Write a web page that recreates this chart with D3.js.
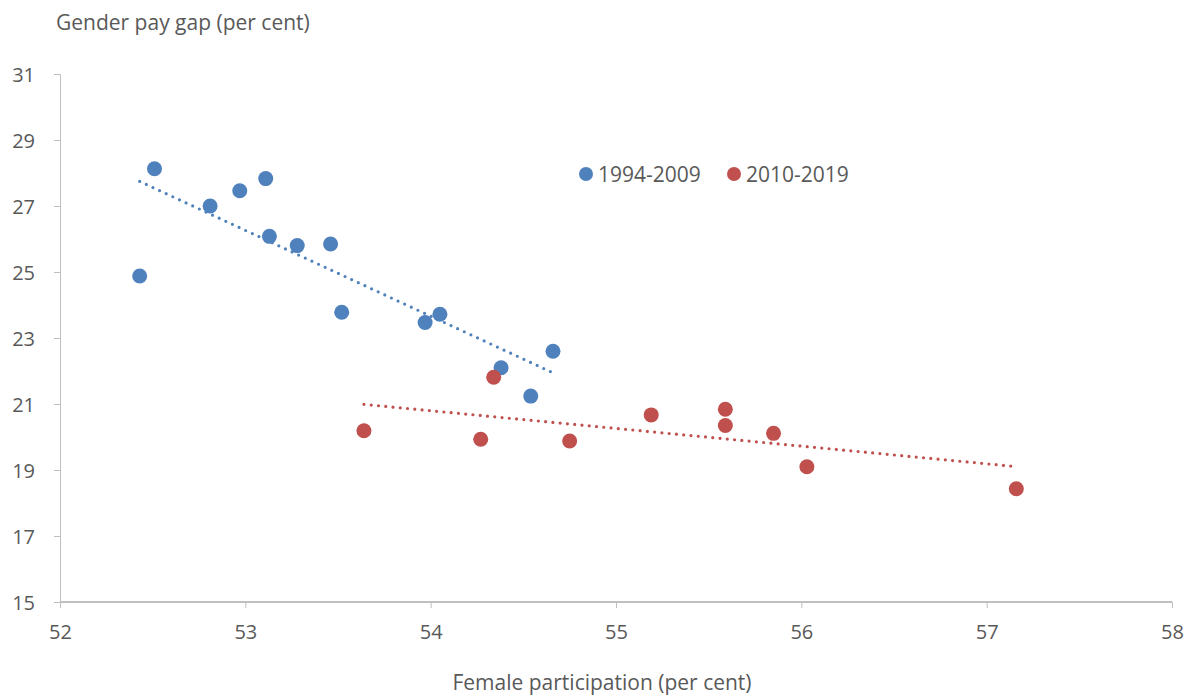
<!DOCTYPE html>
<html><head><meta charset="utf-8">
<script src="https://cdn.jsdelivr.net/npm/d3@7"></script>
<style>body{margin:0;background:#fff}svg{display:block}text{font-family:"Open Sans",sans-serif;fill:#595959}</style>
</head><body><svg id="c" width="1187" height="697"></svg>
<script>
const seriesNames = ["1994-2009", "2010-2019"];
const participation9409 = [52.43, 52.51, 52.81, 52.97, 53.11, 53.13, 53.28, 53.46, 53.52, 53.97, 54.05, 54.38, 54.54, 54.66];
const payGap9409 = [24.88, 28.13, 27.0, 27.46, 27.83, 26.08, 25.80, 25.85, 23.78, 23.47, 23.72, 22.10, 21.24, 22.60];
const participation1019 = [53.64, 54.27, 54.34, 54.75, 55.19, 55.59, 55.59, 55.85, 56.03, 57.16];
const payGap1019 = [20.19, 19.93, 21.81, 19.88, 20.67, 20.84, 20.35, 20.11, 19.10, 18.43];
const xTicks = [52, 53, 54, 55, 56, 57, 58];
const yTicks = [15, 17, 19, 21, 23, 25, 27, 29, 31];
const colors = ["#4F81BD", "#C0504D"];

const svg = d3.select("#c");
const x = d3.scaleLinear().domain([52, 58]).range([60, 1172]);
const y = d3.scaleLinear().domain([15, 31]).range([602, 74]);

// y axis
const ya = svg.append("g").attr("transform", "translate(60,0)")
  .call(d3.axisLeft(y).tickValues(yTicks).tickSize(6).tickPadding(19).tickFormat(d3.format("d")));
ya.select(".domain").attr("stroke", "#BFBFBF").attr("d", "M-6,74.5H0.5V602");
ya.selectAll(".tick line").attr("stroke", "#BFBFBF");
ya.selectAll("text").style("font-size", "20px").attr("fill", "#595959").attr("dy", "0.36em");

// x axis
const xa = svg.append("g").attr("transform", "translate(0,602)")
  .call(d3.axisBottom(x).tickValues(xTicks).tickSize(6).tickPadding(17).tickFormat(d3.format("d")));
xa.select(".domain").attr("stroke", "#BFBFBF").attr("stroke-width", 2).attr("d", "M60,0H1172");
xa.selectAll(".tick line").attr("stroke", "#BFBFBF");
xa.selectAll("text").style("font-size", "20px").attr("fill", "#595959");

// axis titles
svg.append("text").attr("x", 56).attr("y", 30).style("font-size", "21px").text("Gender pay gap (per cent)");
svg.append("text").attr("x", 602).attr("y", 690).attr("text-anchor", "middle").style("font-size", "21px").text("Female participation (per cent)");

const sets = [
  {xs: participation9409, ys: payGap9409},
  {xs: participation1019, ys: payGap1019}
];

function fit(xs, ys) {
  const mx = d3.mean(xs), my = d3.mean(ys);
  const b = d3.sum(xs, (v, i) => (v - mx) * (ys[i] - my)) / d3.sum(xs, v => (v - mx) * (v - mx));
  return {a: my - b * mx, b};
}

sets.forEach((s, k) => {
  const data = s.xs.map((v, i) => [v, s.ys[i]]);
  svg.append("g").selectAll("circle").data(data).join("circle")
    .attr("cx", d => x(d[0])).attr("cy", d => y(d[1])).attr("r", 7.5)
    .attr("fill", colors[k]);
});

sets.forEach((s, k) => {
  const f = fit(s.xs, s.ys);
  const x0 = d3.min(s.xs), x1 = d3.max(s.xs);
  svg.append("line")
    .attr("x1", x(x0)).attr("y1", y(f.a + f.b * x0))
    .attr("x2", x(x1)).attr("y2", y(f.a + f.b * x1))
    .attr("stroke", colors[k]).attr("stroke-width", 3.2)
    .attr("stroke-linecap", "round").attr("stroke-dasharray", "0 7.3");
});

// legend
const legX = [586, 734];
seriesNames.forEach((n, k) => {
  svg.append("circle").attr("cx", legX[k]).attr("cy", 174).attr("r", 7).attr("fill", colors[k]);
  svg.append("text").attr("x", legX[k] + 12).attr("y", 174).attr("dy", "0.36em").style("font-size", "21px").text(n);
});
</script></body></html>
